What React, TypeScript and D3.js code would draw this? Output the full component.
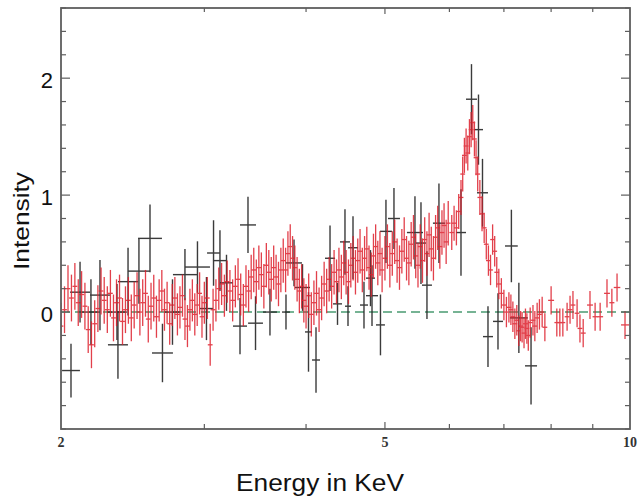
import React from "react";
import * as d3 from "d3";

// red (fine binned) spectrum, keV / intensity
const redEnergy = [
  2.0, 2.02, 2.04, 2.06, 2.08, 2.1, 2.12, 2.14, 2.16, 2.18, 2.2, 2.22, 2.24, 2.26, 2.28, 2.3, 2.32, 2.34, 2.36, 2.38,
  2.4, 2.42, 2.44, 2.46, 2.48, 2.5, 2.52, 2.54, 2.56, 2.58, 2.6, 2.62, 2.64, 2.66, 2.68, 2.7, 2.72, 2.74, 2.76, 2.78,
  2.8, 2.82, 2.84, 2.86, 2.88, 2.9, 2.92, 2.94, 2.96, 2.98,
  3.0, 3.025, 3.05, 3.075, 3.1, 3.125, 3.15, 3.175, 3.2, 3.225, 3.25, 3.275, 3.3, 3.325, 3.35, 3.375, 3.4, 3.425,
  3.45, 3.475, 3.5, 3.525, 3.55, 3.575, 3.6, 3.625, 3.65, 3.675, 3.7, 3.725, 3.75, 3.775, 3.8, 3.825, 3.85, 3.875,
  3.9, 3.925, 3.95, 3.975,
  4.0, 4.03, 4.06, 4.09, 4.12, 4.15, 4.18, 4.21, 4.24, 4.27, 4.3, 4.33, 4.36, 4.39, 4.42, 4.45, 4.48, 4.51, 4.54,
  4.57, 4.6, 4.63, 4.66, 4.69, 4.72, 4.75, 4.78, 4.81, 4.84, 4.87, 4.9, 4.93, 4.96,
  5.0, 5.035, 5.07, 5.105, 5.14, 5.175, 5.21, 5.245, 5.28, 5.315, 5.35, 5.385, 5.42, 5.455, 5.49, 5.525, 5.56,
  5.595, 5.63, 5.665, 5.7, 5.735, 5.77, 5.805, 5.84, 5.875, 5.91, 5.945, 5.98,
  6.04, 6.08, 6.12, 6.16, 6.2, 6.23, 6.26, 6.29, 6.32, 6.35, 6.38, 6.41, 6.44, 6.47, 6.5, 6.54, 6.58, 6.62, 6.66,
  6.7, 6.74, 6.78, 6.82, 6.86, 6.9, 6.95, 7.0, 7.05,
  7.1, 7.14, 7.18, 7.22, 7.26, 7.3, 7.34, 7.37, 7.41, 7.44, 7.47, 7.5, 7.54, 7.6, 7.64, 7.69, 7.74, 7.8, 7.86,
  8.0, 8.13, 8.2, 8.27, 8.37, 8.44, 8.51, 8.61, 8.68, 8.76, 8.93, 9.06, 9.19, 9.37, 9.5, 9.64, 9.86,
];
const redValue = [
  -0.12, 0.02, 0.2, 0.12, 0.22, 0.08, 0.15, 0.05, -0.15, -0.28, -0.1, 0.03, 0.18, 0.1, 0.02, 0.16, -0.05, 0.08, 0.12, -0.08,
  0.02, 0.1, -0.05, 0.06, 0.14, 0.0, 0.08, 0.16, -0.06, 0.05, 0.12, -0.04, 0.1, 0.18, 0.02, 0.08, -0.1, 0.06, 0.12, -0.02,
  0.04, 0.14, -0.06, -0.12, 0.02, 0.1, -0.02, 0.06, 0.16, -0.04,
  0.08, 0.12, -0.28, 0.02, 0.1, 0.2, 0.24, 0.14, 0.26, 0.18, 0.1, 0.22, 0.28, 0.15, 0.06, 0.22, 0.18, 0.3,
  0.36, 0.26, 0.38, 0.32, 0.22, 0.4, 0.34, 0.28, 0.38, 0.3, 0.24, 0.36, 0.44, 0.36, 0.5, 0.56, 0.46, 0.38,
  0.28, 0.18, 0.22, 0.1,
  0.05, 0.14, -0.02, 0.08, 0.16, 0.02, 0.12, 0.24, 0.18, 0.28, 0.22, 0.34, 0.26, 0.36, 0.3, 0.42, 0.34, 0.26, 0.4,
  0.46, 0.34, 0.44, 0.52, 0.36, 0.46, 0.54, 0.38, 0.32, 0.48, 0.56, 0.42, 0.5, 0.36,
  0.46, 0.56, 0.4, 0.5, 0.6, 0.44, 0.38, 0.52, 0.62, 0.46, 0.42, 0.58, 0.64, 0.48, 0.4, 0.56, 0.44,
  0.62, 0.5, 0.66, 0.54, 0.46, 0.64, 0.72, 0.56, 0.68, 0.74, 0.6, 0.76,
  0.68, 0.76, 0.72, 0.86, 0.98, 1.18, 1.34, 1.42, 1.36, 1.5, 1.56, 1.62, 1.48, 1.32, 1.18, 0.98, 0.84, 0.72, 0.58,
  0.44, 0.36, 0.62, 0.52, 0.34, 0.24, 0.16, 0.06, 0.0,
  0.04, 0.02, -0.04, -0.1, -0.07, -0.16, -0.12, -0.13, -0.18, -0.1, -0.14, -0.2, -0.09, -0.07, -0.12, -0.05, -0.02, 0.0, -0.13,
  0.1, -0.09, -0.09, -0.09, -0.04, 0.02, 0.06, -0.01, -0.14, -0.18, 0.06, -0.04, -0.04, 0.16, 0.08, 0.21, -0.11,
];
// red error bar size per energy band (band upper edges in keV)
const redErrEdges = [2.6, 3.4, 4.0, 5.0, 6.0, 6.6, 7.8, 10.01];
const redErrValues = [0.2, 0.18, 0.19, 0.19, 0.19, 0.15, 0.13, 0.12];

// black (coarse binned) spectrum
const blackLo = [
  2.006, 2.052, 2.122, 2.171, 2.278, 2.284, 2.35, 2.417, 2.487, 2.587, 2.684, 2.745, 2.84, 2.963, 3.023, 3.074,
  3.136, 3.318, 3.253, 3.395, 3.541, 3.737, 3.78, 3.877, 3.988, 4.068, 4.22, 4.317, 4.403, 4.466, 4.504, 4.659,
  4.739, 4.739, 4.875, 4.93, 5.043, 5.321, 5.459, 5.552, 5.727, 6.113, 6.288, 6.432, 6.487, 6.598, 6.787, 7.022,
  7.12, 7.431,
];
const blackHi = [
  2.11, 2.171, 2.233, 2.297, 2.41, 2.417, 2.487, 2.572, 2.661, 2.745, 2.8, 2.938, 3.048, 3.074, 3.136, 3.198,
  3.253, 3.472, 3.385, 3.541, 3.684, 3.822, 3.954, 4.045, 4.068, 4.161, 4.342, 4.428, 4.529, 4.542, 4.633, 4.766,
  4.903, 4.861, 5.0, 5.1, 5.217, 5.568, 5.615, 5.711, 5.925, 6.288, 6.487, 6.598, 6.692, 6.787, 6.982, 7.28,
  7.49, 7.688,
];
const blackValue = [
  -0.5, 0.17, 0.0, 0.145, 0.0, -0.28, 0.26, 0.35, 0.63, -0.35, 0.0, 0.32, 0.385, 0.03, 0.505, 0.44,
  0.25, 0.745, -0.12, -0.095, 0.0, 0.0, 0.42, 0.21, -0.17, -0.41, 0.46, 0.07, 0.6, 0.05, 0.55, 0.06,
  0.14, 0.29, -0.11, 0.69, 0.8, 0.68, 0.59, 0.23, 0.76, 0.68, 1.82, 1.56, 1.02, -0.21, -0.08, 0.565,
  -0.05, -0.46,
];
const blackErr = [
  0.23, 0.26, 0.28, 0.3, 0.24, 0.29, 0.29, 0.28, 0.29, 0.25, 0.28, 0.22, 0.22, 0.27, 0.28, 0.26,
  0.24, 0.24, 0.24, 0.23, 0.2, 0.15, 0.2, 0.2, 0.34, 0.28, 0.28, 0.18, 0.28, 0.17, 0.27, 0.2,
  0.26, 0.24, 0.26, 0.27, 0.26, 0.31, 0.35, 0.29, 0.34, 0.37, 0.3, 0.3, 0.29, 0.26, 0.24, 0.31,
  0.3, 0.33,
];

const yTickLabels = [0, 1, 2];
const xTickLabels = [2, 5, 10];

const frame = { left: 61, right: 630, top: 8, bottom: 429 };
const sans = "'Liberation Sans', Arial, Helvetica, sans-serif";

export default function App() {
  const x = d3.scaleLog().domain([2, 10]).range([frame.left, frame.right]);
  const y = d3.scaleLinear().domain([-1, 2.6]).range([frame.bottom, frame.top]);

  const errFor = (e: number) => redErrValues[Math.min(d3.bisectLeft(redErrEdges, e), redErrValues.length - 1)];

  const red = redEnergy.map((e, i) => {
    const px = x(e);
    const prev = i > 0 ? x(redEnergy[i - 1]) : px - (x(redEnergy[1]) - px);
    const next = i < redEnergy.length - 1 ? x(redEnergy[i + 1]) : px + (px - prev);
    const hw = Math.max(2.4, (next - prev) / 4);
    const v = redValue[i];
    const err = errFor(e);
    return { px, hw, py: y(v), y1: y(v + err), y2: y(v - err) };
  });

  const black = blackValue.map((v, i) => {
    const x1 = x(blackLo[i]);
    const x2 = x(blackHi[i]);
    return { x1, x2, xm: (x1 + x2) / 2, py: y(v), y1: y(v + blackErr[i]), y2: y(v - blackErr[i]) };
  });

  const yMinor = y.ticks(18);
  const xMinor = x.ticks().filter((t) => t > 2 && t < 10);
  const frameColor = "#5e5e5e";

  return (
    <svg width={640} height={501} style={{ position: "absolute", left: 0, top: 0, background: "#fff" }}>
      <defs>
        <clipPath id="plotclip">
          <rect x={frame.left} y={frame.top} width={frame.right - frame.left} height={frame.bottom - frame.top} />
        </clipPath>
      </defs>

      <g clipPath="url(#plotclip)">
        <line x1={x(2)} x2={x(10)} y1={y(0)} y2={y(0)} stroke="#4a9a72" strokeWidth={1.4} strokeDasharray="9,5" />

        <g stroke="#262626" strokeWidth={1.4} opacity={0.9}>
          {black.map((d, i) => (
            <g key={i}>
              <line x1={d.x1} x2={d.x2} y1={d.py} y2={d.py} />
              <line x1={d.xm} x2={d.xm} y1={d.y1} y2={d.y2} />
            </g>
          ))}
        </g>

        <g stroke="#de1f2c" strokeWidth={1.3} opacity={0.85}>
          {red.map((d, i) => (
            <g key={i}>
              <line x1={d.px - d.hw} x2={d.px + d.hw} y1={d.py} y2={d.py} />
              <line x1={d.px} x2={d.px} y1={d.y1} y2={d.y2} />
            </g>
          ))}
        </g>
      </g>

      {/* ticks */}
      <g stroke={frameColor} strokeWidth={1.2}>
        {yMinor.map((t, i) => {
          const len = yTickLabels.includes(Math.round(t * 10) / 10) ? 9 : 5;
          return (
            <g key={i}>
              <line x1={frame.left} x2={frame.left + len} y1={y(t)} y2={y(t)} />
              <line x1={frame.right} x2={frame.right - len} y1={y(t)} y2={y(t)} />
            </g>
          );
        })}
        {xMinor.map((t, i) => {
          const len = t === 5 ? 7 : 5;
          return (
            <g key={i}>
              <line x1={x(t)} x2={x(t)} y1={frame.bottom} y2={frame.bottom - len} />
              <line x1={x(t)} x2={x(t)} y1={frame.top} y2={frame.top + len - 1} />
            </g>
          );
        })}
      </g>

      <rect
        x={frame.left}
        y={frame.top}
        width={frame.right - frame.left}
        height={frame.bottom - frame.top}
        fill="none"
        stroke={frameColor}
        strokeWidth={1.8}
      />

      {/* tick labels */}
      {yTickLabels.map((t) => (
        <text key={t} x={53} y={y(t) + 4} fontFamily={sans} fontSize={22} textAnchor="end" dominantBaseline="middle" fill="#111">
          {t}
        </text>
      ))}
      {xTickLabels.map((t) => (
        <text
          key={t}
          x={x(t)}
          y={447}
          fontFamily="'Liberation Serif', 'Times New Roman', serif"
          fontWeight="bold"
          fontSize={14}
          textAnchor="middle"
          fill="#333"
        >
          {t}
        </text>
      ))}

      <text
        x={320}
        y={491}
        fontFamily={sans}
        fontSize={23}
        textAnchor="middle"
        textLength={168}
        lengthAdjust="spacingAndGlyphs"
        fill="#111"
      >
        Energy in KeV
      </text>
      <text
        transform="translate(29,221) rotate(-90)"
        fontFamily={sans}
        fontSize={22}
        textAnchor="middle"
        textLength={98}
        lengthAdjust="spacingAndGlyphs"
        fill="#111"
      >
        Intensity
      </text>
    </svg>
  );
}
